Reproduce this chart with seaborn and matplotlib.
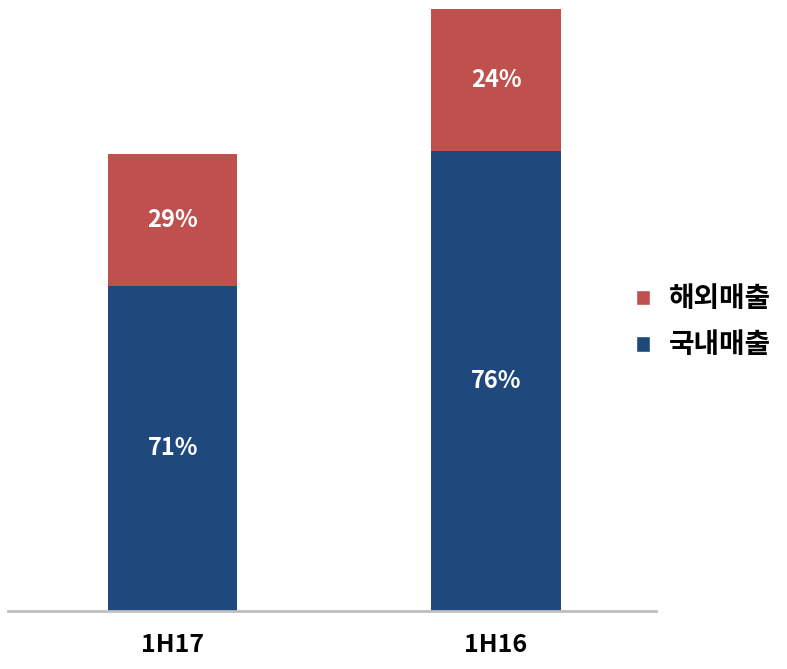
import pandas as pd
import numpy as np
import matplotlib
matplotlib.use("Agg")
import matplotlib.pyplot as plt
from matplotlib.patches import Patch
import seaborn as sns

# data (bar heights, arbitrary units)
periods = ["1H17", "1H16"]
domestic = [325, 460]   # 국내매출
overseas = [132, 142]   # 해외매출
series_names = ["해외매출", "국내매출"]

c_red = "#C0504D"
c_blue = "#1F497D"

sns.set_style("white")
plt.rcParams['font.family'] = ['Noto Sans CJK KR', 'DejaVu Sans']

df = pd.DataFrame({"period": periods, "domestic": domestic, "overseas": overseas})
df["total"] = df["domestic"] + df["overseas"]

fig = plt.figure(figsize=(7.87, 6.69), dpi=100)
ax = fig.add_axes([0.0102, 0.0867, 0.8234, 0.90])

sns.barplot(data=df, x="period", y="total", color=c_red, width=0.4, saturation=1,
            linewidth=0, ax=ax)
sns.barplot(data=df, x="period", y="domestic", color=c_blue, width=0.4, saturation=1,
            linewidth=0, ax=ax)

for i, row in df.iterrows():
    dom_pct = round(row["domestic"] / row["total"] * 100)
    ovs_pct = 100 - dom_pct
    ax.text(i, row["domestic"] / 2, f"{dom_pct}%", ha="center", va="center",
            color="white", fontsize=17, fontweight="bold")
    ax.text(i, row["domestic"] + row["overseas"] / 2, f"{ovs_pct}%", ha="center", va="center",
            color="white", fontsize=17, fontweight="bold")

ax.set_xlim(-0.51, 1.495)
ax.set_ylim(0, df["total"].max())
ax.set_xlabel("")
ax.set_ylabel("")
ax.set_yticks([])
ax.tick_params(axis="x", length=0, pad=16)
for lab in ax.get_xticklabels():
    lab.set_fontsize(18)
    lab.set_fontweight("bold")
    lab.set_color("black")

for s in ["top", "right", "left"]:
    ax.spines[s].set_visible(False)
ax.spines["bottom"].set_color("#BFBFBF")
ax.spines["bottom"].set_linewidth(2)

handles = [Patch(facecolor=c_red), Patch(facecolor=c_blue)]
leg = fig.legend(handles, series_names, loc="center left", bbox_to_anchor=(0.777, 0.518),
                 frameon=False, prop={"size": 20, "weight": "bold"},
                 handlelength=0.5, handleheight=0.5, handletextpad=0.65, labelspacing=0.65)
for t in leg.get_texts():
    t.set_color("black")

plt.savefig("out.png", dpi=100)
